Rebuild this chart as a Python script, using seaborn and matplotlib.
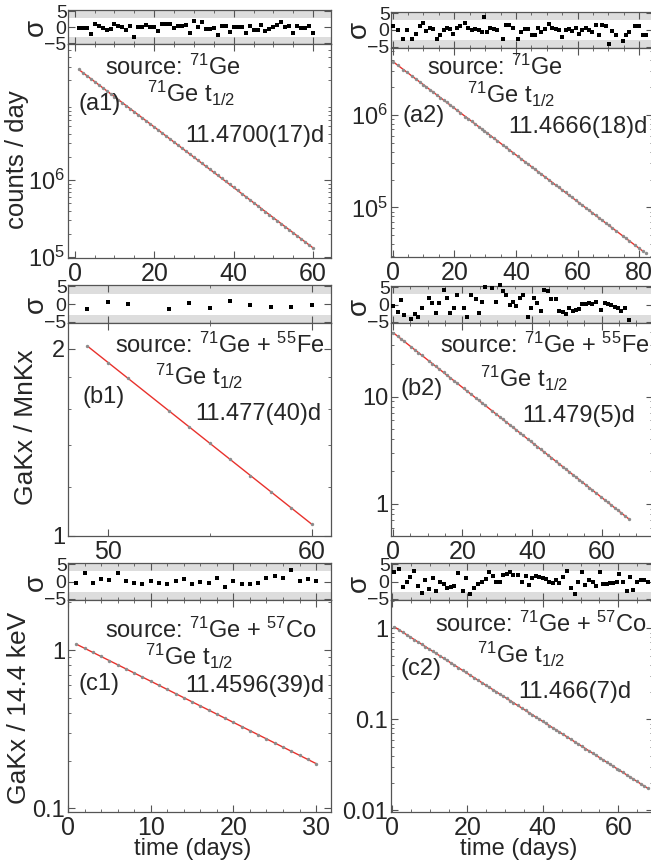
import numpy as np
import matplotlib
matplotlib.use("Agg")
import matplotlib.pyplot as plt
import matplotlib.ticker as mticker
import seaborn as sns

# residuals (sigma)
a1_x = [1, 2, 3, 4, 5, 6, 7, 8, 9, 10, 11, 12, 13, 14, 15, 16, 17, 18, 19, 20,
        21, 22, 23, 24, 25, 26, 27, 28, 29, 30, 31, 32, 33, 34, 35, 36, 37, 38, 39, 40,
        41, 42, 43, 44, 45, 46, 47, 48, 49, 50, 51, 52, 53, 54, 55, 56, 57, 58, 59, 60]
a1_sig = [-0.4, -0.4, -0.4, -2.1, 1.1, 0.5, -0.2, -0.9, -0.5, 1.0, 0.5, 0.1, -0.9, 0.4, -3.0, -0.1, 0.1, 0.7, -0.1, 0.1,
          -1.1, 1.0, 0.9, 0.9, -0.4, 0.4, 0.5, 0.8, -1.7, 1.8, 0.1, 1.5, -0.7, -0.5, -0.2, -2.6, 0.5, 0.4, -1.4, 0.1,
          0.1, 0.1, -1.8, 0.3, -0.9, -0.8, 0.6, -1.1, -0.7, -0.1, 0.8, 1.6, -0.1, 0.3, -1.7, 0.4, -0.3, -0.3, 0.4, -1.9]

a2_x = [0.2, 1.6, 3.5, 4.6, 6.2, 7.5, 8.9, 10.0, 10.7, 12.1, 13.2, 14.3, 15.4, 16.5, 17.6, 18.7, 19.7, 20.8, 21.9, 23.6,
        24.6, 25.7, 26.8, 27.9, 29.0, 29.6, 30.6, 31.7, 32.8, 33.9, 35.7, 36.8, 37.9, 39.0, 40.7, 41.8, 42.9, 44.0, 45.3, 46.1,
        47.2, 48.3, 49.6, 50.7, 51.8, 52.9, 53.9, 55.0, 56.1, 57.2, 58.3, 59.4, 60.5, 61.6, 62.6, 63.7, 64.8, 65.9, 67.0, 68.1,
        69.2, 70.2, 71.3, 72.4, 74.6, 75.7, 76.7, 78.7, 80.0, 81.1, 82.2]
a2_sig = [1.1, 0.0, -2.8, 0.0, -2.8, -1.1, 1.1, 2.1, -0.3, 0.7, 0.3, -2.8, -1.4, 0.0, 0.5, 0.3, -1.1, 0.5, 1.1, 2.2,
          0.5, 0.0, 0.3, 0.0, -0.7, 3.9, -0.5, 0.7, 0.3, 0.0, -2.6, 1.4, 1.6, 0.5, -2.6, -0.5, 0.3, 0.3, -1.6, -1.4,
          0.5, -0.5, 0.3, 1.8, 0.7, 0.3, 0.0, -2.1, 0.0, 0.3, -0.3, 0.5, -1.1, 0.0, 0.7, 0.0, -0.5, 1.6, -1.4, 1.4,
          1.1, -4.2, -0.3, -1.6, -3.2, -1.6, -0.7, 1.1, 1.1, -1.6, -1.4]

b1_x = [49, 50, 51, 53, 54, 55, 56, 57, 58, 59, 60]
b1_sig = [-1.4, 0.5, 0.1, -1.3, 0.2, -1.2, 0.9, -0.3, -0.7, -0.9, -0.1]

b2_x = [0.2, 1.4, 2.4, 3.3, 5.3, 6.4, 7.4, 8.4, 10.3, 11.4, 12.4, 13.4, 14.6, 15.6, 16.5, 17.5, 18.5, 20.4, 21.4, 22.6,
        23.8, 24.7, 25.7, 26.6, 28.6, 29.7, 30.7, 31.6, 32.6, 33.6, 34.5, 35.5, 36.5, 37.4, 38.8, 39.7, 40.7, 41.6, 42.6, 43.6,
        44.5, 45.5, 46.8, 47.8, 48.8, 49.7, 50.7, 51.7, 52.6, 53.6, 54.5, 55.5, 56.5, 57.4, 58.4, 59.9, 60.9, 61.8, 62.8, 63.8,
        64.7, 65.7, 66.7, 67.8]
b2_sig = [-0.4, -2.1, 1.4, -2.9, -4.2, -2.7, -3.7, -1.0, 1.8, 0.4, -2.3, 0.6, 4.2, 2.0, -2.5, -1.1, 2.9, -1.1, -3.5, 2.9,
          1.5, -2.5, 0.8, 5.1, 4.8, 0.8, 5.8, 3.9, 2.7, -0.1, 0.8, -0.3, 1.8, 2.7, -3.5, -1.0, 1.8, 0.4, -1.8, 4.1,
          3.9, 1.6, 1.6, -1.8, -2.2, -2.7, -1.1, -1.8, -1.4, -1.3, 0.3, 0.1, 0.5, 0.1, 0.7, -1.4, 0.6, 0.3, -0.1, -0.8,
          -1.1, -1.8, -1.1, -4.4]

c1_x = [1, 2, 3, 4, 5, 6, 7, 8, 9, 10, 11, 12, 13, 14, 15, 16, 17, 18, 19, 20,
        21, 22, 23, 24, 25, 26, 27, 28, 29, 30]
c1_sig = [-0.3, 2.4, -0.5, 0.8, 0.5, 2.6, 0.1, -0.3, -0.7, 0.1, -0.5, -0.7, 0.1, 0.9, -0.7, 0.0, -0.5, 1.1, -1.6, 0.1,
          -0.7, -0.7, -0.3, 1.1, 1.7, 1.1, 3.4, 0.1, 0.9, 0.3]

c2_x = [0.6, 1.8, 2.8, 4.0, 4.9, 5.9, 6.8, 7.9, 8.8, 9.9, 10.8, 11.7, 12.8, 13.7, 14.6, 15.6, 16.5, 17.6, 18.7, 19.6,
        20.7, 21.8, 22.7, 23.9, 24.9, 25.8, 26.7, 27.6, 28.6, 29.5, 30.4, 31.3, 32.2, 33.3, 34.5, 35.4, 36.3, 37.1, 38.2, 39.1,
        40.0, 40.8, 41.7, 42.6, 43.5, 44.4, 45.3, 46.3, 47.5, 48.4, 49.3, 50.4, 51.3, 52.2, 53.2, 54.1, 55.2, 56.0, 56.9, 57.8,
        58.7, 59.6, 60.3, 61.2, 62.3, 63.1, 64.0, 64.9, 66.0, 66.9, 67.8]
c2_sig = [2.9, 3.7, -1.4, -0.2, 1.3, 3.2, -1.2, -3.3, 0.6, -2.1, 1.1, -2.7, -0.2, -0.7, -1.7, -1.5, -1.2, 2.4, -2.6, 1.0,
          -3.5, -1.7, -0.7, 0.0, 0.8, 2.9, 1.7, -0.2, 0.0, 1.9, 2.3, 2.7, 1.9, 1.9, 0.0, 1.6, -1.0, 1.0, 1.7, 1.4,
          1.0, 0.8, -0.2, -0.4, 0.6, -0.4, 1.3, 3.2, -1.7, -3.7, -0.2, 2.9, -1.0, 0.6, -0.2, -1.2, 2.9, -0.7, -0.7, -0.5,
          -0.4, -0.2, 2.2, 0.0, -2.6, 1.3, -2.3, -0.2, 0.6, 0.6, -0.2]

# measured points on the big panels (same x as the residuals)
a1_y = [2.75e7, 2.512e7, 2.294e7, 2.095e7, 1.914e7, 1.748e7, 1.597e7, 1.458e7, 1.332e7, 1.217e7,
        1.111e7, 1.015e7, 9.269e6, 8.466e6, 7.733e6, 7.063e6, 6.451e6, 5.892e6, 5.382e6, 4.915e6,
        4.489e6, 4.1e6, 3.745e6, 3.421e6, 3.124e6, 2.854e6, 2.606e6, 2.380e6, 2.174e6, 1.986e6,
        1.814e6, 1.657e6, 1.513e6, 1.382e6, 1.262e6, 1.153e6, 1.053e6, 9.619e5, 8.786e5, 8.024e5,
        7.329e5, 6.694e5, 6.114e5, 5.584e5, 5.101e5, 4.659e5, 4.255e5, 3.887e5, 3.550e5, 3.242e5,
        2.961e5, 2.705e5, 2.471e5, 2.256e5, 2.061e5, 1.882e5, 1.719e5, 1.570e5, 1.434e5, 1.310e5]
a2_y = [3.77e6, 3.47e6, 3.11e6, 2.92e6, 2.66e6, 2.46e6, 2.27e6, 2.13e6, 2.04e6, 1.88e6, 1.77e6, 1.66e6, 1.55e6,
        1.46e6, 1.37e6, 1.28e6, 1.21e6, 1.13e6, 1.06e6, 9.64e5, 9.09e5, 8.53e5, 8e5, 7.5e5, 7.04e5, 6.79e5, 6.41e5,
        6.01e5, 5.64e5, 5.29e5, 4.76e5, 4.47e5, 4.19e5, 3.93e5, 3.56e5, 3.34e5, 3.13e5, 2.94e5, 2.72e5, 2.6e5, 2.44e5,
        2.28e5, 2.12e5, 1.99e5, 1.86e5, 1.75e5, 1.65e5, 1.55e5, 1.45e5, 1.36e5, 1.28e5, 1.2e5, 1.12e5, 1.05e5, 9.93e4,
        9.31e4, 8.73e4, 8.19e4, 7.68e4, 7.21e4, 6.76e4, 6.38e4, 5.98e4, 5.61e4, 4.93e4, 4.63e4, 4.37e4, 3.88e4, 3.6e4,
        3.38e4, 3.17e4]
b1_y = [2.02, 1.90, 1.792, 1.590, 1.497, 1.410, 1.328, 1.251, 1.178, 1.110, 1.045]
b2_y = [39.3, 36.6, 34.5, 32.7, 29.1, 27.2, 25.7, 24.2, 21.6, 20.3, 19.1, 18, 16.8, 15.8, 15, 14.1, 13.3, 11.9, 11.2,
        10.5, 9.75, 9.24, 8.71, 8.26, 7.34, 6.88, 6.48, 6.15, 5.79, 5.46, 5.18, 4.88, 4.6, 4.36, 4.02, 3.81, 3.59, 3.4,
        3.21, 3.02, 2.87, 2.7, 2.5, 2.36, 2.22, 2.11, 1.99, 1.87, 1.78, 1.68, 1.59, 1.5, 1.41, 1.34, 1.26, 1.15, 1.09,
        1.03, 0.973, 0.917, 0.87, 0.82, 0.773, 0.724]
c1_y = [1.09, 1.027, 0.967, 0.9108, 0.8578, 0.808, 0.761, 0.7168, 0.6751, 0.6359, 0.5989, 0.5641, 0.5313, 0.5005, 0.4714,
        0.444, 0.4182, 0.3939, 0.371, 0.3494, 0.3291, 0.31, 0.292, 0.275, 0.259, 0.244, 0.2298, 0.2164, 0.2038, 0.192]
c2_y = [1.04, 0.9668, 0.9098, 0.8458, 0.8008, 0.7536, 0.7134, 0.6673, 0.6318, 0.5909, 0.5595, 0.5297, 0.4954, 0.469,
        0.4441, 0.4179, 0.3956, 0.37, 0.3461, 0.3277, 0.3065, 0.2867, 0.2714, 0.2523, 0.2374, 0.2248, 0.2128, 0.2015,
        0.1896, 0.1795, 0.17, 0.1609, 0.1523, 0.1425, 0.1325, 0.1254, 0.1187, 0.1131, 0.1058, 0.1002, 0.09483, 0.09032,
        0.08552, 0.08096, 0.07665, 0.07257, 0.06871, 0.06466, 0.06011, 0.05691, 0.05388, 0.05039, 0.04771, 0.04517,
        0.04251, 0.04024, 0.03764, 0.03585, 0.03395, 0.03214, 0.03043, 0.02881, 0.02761, 0.02614, 0.02445, 0.02329,
        0.02205, 0.02087, 0.01952, 0.01848, 0.0175]

# fitted line end points
a1_fit_x, a1_fit_y = [1, 60], [2.75e7, 1.31e5]
a2_fit_x, a2_fit_y = [0.2, 81.5], [3.77e6, 3.3e4]
b1_fit_x, b1_fit_y = [49, 60], [2.02, 1.045]
b2_fit_x, b2_fit_y = [0.2, 67.8], [39.3, 0.724]
c1_fit_x, c1_fit_y = [1, 30], [1.09, 0.192]
c2_fit_x, c2_fit_y = [0.6, 67.8], [1.04, 0.0175]

sns.set_theme(style="ticks")
plt.rcParams['font.family'] = ['Liberation Sans', 'DejaVu Sans']
plt.rcParams['mathtext.fontset'] = 'custom'
plt.rcParams['mathtext.rm'] = 'Liberation Sans'
plt.rcParams['mathtext.it'] = 'Liberation Sans:italic'
plt.rcParams['mathtext.bf'] = 'Liberation Sans:bold'

W, H = 651, 868
fig = plt.figure(figsize=(W / 100, H / 100), dpi=100)

def box(x0, y0, x1, y1):
    # pixel box (from top-left) -> figure fraction
    return [x0 / W, 1 - y1 / H, (x1 - x0) / W, (y1 - y0) / H]

def style(ax):
    for s in ax.spines.values():
        s.set_color('#555555')
        s.set_linewidth(0.9)
    ax.tick_params(which='both', direction='in', top=True, right=True, color='#555555')
    ax.tick_params(which='major', length=5, width=0.8)
    ax.tick_params(which='minor', length=2.5, width=0.6)

panels = [
    dict(rx=a1_x, rs=a1_sig, py=a1_y, fx=a1_fit_x, fy=a1_fit_y, g=(68, 331, 10, 44, 258), xlim=(-1.7, 64.5),
         ylim=(9.7e4, 5.9e7), xt=[0, 20, 40, 60], xm=5, yt=[1e5, 1e6], ytl=[r"$10^5$", r"$10^6$"],
         txt=[(105, 75), (147, 102), (78, 110), (185, 142)], lab="(a1)", val="11.4700(17)d", src=r"source: $^{71}$Ge"),
    dict(rx=a2_x, rs=a2_sig, py=a2_y, fx=a2_fit_x, fy=a2_fit_y, g=(391, 653, 12, 47.5, 257), xlim=(-0.55, 84.5),
         ylim=(2.9e4, 5.4e6), xt=[0, 20, 40, 60, 80], xm=5, yt=[1e5, 1e6], ytl=[r"$10^5$", r"$10^6$"],
         txt=[(427, 75), (467, 103), (403, 122), (508, 133)], lab="(a2)", val="11.4666(18)d", src=r"source: $^{71}$Ge"),
    dict(rx=b1_x, rs=b1_sig, py=b1_y, fx=b1_fit_x, fy=b1_fit_y, g=(68, 331, 285, 323, 536), xlim=(48.05, 60.95),
         ylim=(1.0, 2.2), xt=[50, 60], xm=5, yt=[1, 2], ytl=["1", "2"],
         txt=[(115, 353), (155, 385), (82, 403), (195, 420)], lab="(b1)", val="11.477(40)d",
         src=r"source: $^{71}$Ge + $^{55}$Fe"),
    dict(rx=b2_x, rs=b2_sig, py=b2_y, fx=b2_fit_x, fy=b2_fit_y, g=(391, 653, 286, 323, 536), xlim=(-0.5, 74.8),
         ylim=(0.5, 48.6), xt=[0, 20, 40, 60], xm=5, yt=[1, 10], ytl=["1", "10"],
         txt=[(440, 353), (480, 387), (400, 395), (522, 422)], lab="(b2)", val="11.479(5)d",
         src=r"source: $^{71}$Ge + $^{55}$Fe"),
    dict(rx=c1_x, rs=c1_sig, py=c1_y, fx=c1_fit_x, fy=c1_fit_y, g=(68, 331, 563, 600, 812), xlim=(0, 31.8),
         ylim=(0.095, 2.07), xt=[0, 10, 20, 30], xm=2, yt=[0.1, 1], ytl=["0.1", "1"],
         txt=[(105, 638), (145, 665), (78, 690), (185, 692)], lab="(c1)", val="11.4596(39)d",
         src=r"source: $^{71}$Ge + $^{57}$Co"),
    dict(rx=c2_x, rs=c2_sig, py=c2_y, fx=c2_fit_x, fy=c2_fit_y, g=(391, 653, 563, 600, 812), xlim=(-0.27, 69.2),
         ylim=(0.0096, 2.05), xt=[0, 20, 40, 60], xm=5, yt=[0.01, 0.1, 1], ytl=["0.01", "0.1", "1"],
         txt=[(435, 632), (477, 663), (400, 675), (518, 698)], lab="(c2)", val="11.466(7)d",
         src=r"source: $^{71}$Ge + $^{57}$Co"),
]

for p in panels:
    x0, x1, rt, mt, mb = p['g']
    axr = fig.add_axes(box(x0, rt, x1, mt))
    axm = fig.add_axes(box(x0, mt, x1, mb))

    # residual strip
    axr.axhspan(3, 10, color='#dddddd', lw=0, zorder=0)
    axr.axhspan(-10, -3, color='#dddddd', lw=0, zorder=0)
    sns.scatterplot(x=p['rx'], y=p['rs'], marker='s', s=10, color='black', linewidth=0, ax=axr, clip_on=False, zorder=3)
    axr.set_xlim(*p['xlim'])
    axr.set_ylim(-5.3, 5.4)
    axr.set_yticks([-5, 0, 5])
    axr.set_yticklabels(["\u22125", "0", "5"], fontsize=14)
    axr.set_xticks(p['xt'])
    axr.xaxis.set_minor_locator(mticker.MultipleLocator(p['xm']))
    axr.set_xticklabels([])
    axr.tick_params(axis='y', pad=1)
    style(axr)

    # decay curve + fit
    sns.lineplot(x=p['fx'], y=p['fy'], color='#e8312c', lw=1.0, ax=axm, zorder=2)
    sns.scatterplot(x=p['rx'], y=p['py'], color='#8c8c8c', s=6, linewidth=0, ax=axm, zorder=3)
    axm.set_yscale('log')
    axm.set_xlim(*p['xlim'])
    axm.set_ylim(*p['ylim'])
    axm.set_xticks(p['xt'])
    axm.set_xticklabels([str(t) for t in p['xt']], fontsize=18)
    axm.xaxis.set_minor_locator(mticker.MultipleLocator(p['xm']))
    axm.set_yticks(p['yt'])
    axm.set_yticklabels(p['ytl'], fontsize=17)
    axm.yaxis.set_minor_locator(mticker.LogLocator(base=10, subs=np.arange(2, 10)))
    axm.yaxis.set_minor_formatter(mticker.NullFormatter())
    axm.tick_params(axis='y', pad=2)
    axm.tick_params(axis='x', pad=3)
    style(axm)

    (sx, sy), (tx, ty), (lx, ly), (vx, vy) = p['txt']
    fig.text(sx / W, 1 - sy / H, p['src'], fontsize=17, va='baseline')
    fig.text(tx / W, 1 - ty / H, r"$^{71}$Ge t$_{1/2}$", fontsize=17, va='baseline')
    fig.text(lx / W, 1 - ly / H, p['lab'], fontsize=17, va='baseline')
    fig.text(vx / W, 1 - vy / H, p['val'], fontsize=17, va='baseline')

for (x, y) in [(36, 27), (359, 29), (36, 304), (359, 306), (36, 582), (359, 583)]:
    fig.text(x / W, 1 - y / H, "\u03c3", fontsize=20, rotation=90, ha='center', va='center')

fig.text(17 / W, 1 - 160 / H, "counts / day", fontsize=18.5, rotation=90, ha='center', va='center')
fig.text(26 / W, 1 - 427 / H, "GaKx / MnKx", fontsize=19, rotation=90, ha='center', va='center')
fig.text(19 / W, 1 - 708 / H, "GaKx / 14.4 keV", fontsize=19, rotation=90, ha='center', va='center')
fig.text(193 / W, 1 - 849 / H, "time (days)", fontsize=17, ha='center', va='center')
fig.text(519 / W, 1 - 849 / H, "time (days)", fontsize=17, ha='center', va='center')

fig.savefig("out.png", dpi=100)
